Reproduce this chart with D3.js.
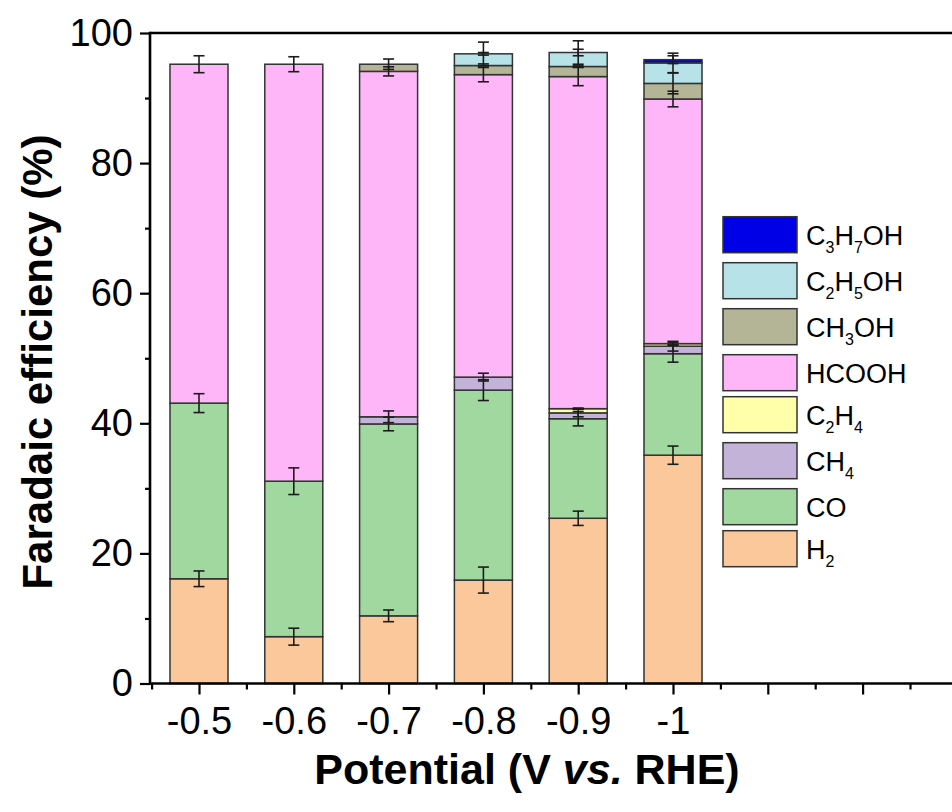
<!DOCTYPE html>
<html>
<head>
<meta charset="utf-8">
<script src="https://cdn.jsdelivr.net/npm/d3@7"></script>
<style>
  html, body { margin: 0; padding: 0; background: #fff; }
  svg text { font-family: "Liberation Sans", Arial, Helvetica, sans-serif; fill: #000; }
</style>
</head>
<body>
<svg id="chart" width="952" height="812"></svg>
<script>
// Applied potentials (V vs. RHE)
const potentials = [-0.5, -0.6, -0.7, -0.8, -0.9, -1.0];
const xTickLabels = ["-0.5", "-0.6", "-0.7", "-0.8", "-0.9", "-1"];
const yTickValues = [0, 20, 40, 60, 80, 100];

// Products, in stacking order (bottom to top)
const products = ["H2", "CO", "CH4", "C2H4", "HCOOH", "CH3OH", "C2H5OH", "C3H7OH"];
const productColors = ["#FAC89B", "#A0D8A0", "#C4B3D9", "#FFFFAA", "#FFB6F8", "#B4B496", "#B6E2E8", "#0000E6"];

// Faradaic efficiency (%) of each product at each potential
const feH2     = [16.1, 7.2, 10.4, 15.9, 25.4, 35.1];
const feCO     = [27.0, 23.9, 29.5, 29.2, 15.3, 15.6];
const feCH4    = [0, 0, 1.1, 2.0, 0.9, 1.15];
const feC2H4   = [0, 0, 0, 0, 0.65, 0.4];
const feHCOOH  = [52.1, 64.1, 53.1, 46.5, 51.05, 37.6];
const feCH3OH  = [0, 0, 1.1, 1.4, 1.55, 2.4];
const feC2H5OH = [0, 0, 0, 1.8, 2.15, 3.15];
const feC3H7OH = [0, 0, 0, 0, 0, 0.5];

// Standard deviations (%)
const errH2     = [1.2, 1.3, 0.9, 2.0, 1.1, 1.4];
const errCO     = [1.45, 2.05, 1.05, 1.6, 1.1, 1.3];
const errCH4    = [0, 0, 0.9, 0.6, 0.6, 0.75];
const errC2H4   = [0, 0, 0, 0, 0.1, 0.2];
const errHCOOH  = [1.3, 1.15, 0.7, 1.1, 1.4, 1.2];
const errCH3OH  = [0, 0, 0.8, 0.25, 0.1, 1.6];
const errC2H5OH = [0, 0, 0, 1.8, 1.8, 1.5];
const errC3H7OH = [0, 0, 0, 0.2, 0.5, 0.6];

const feBySeries  = [feH2, feCO, feCH4, feC2H4, feHCOOH, feCH3OH, feC2H5OH, feC3H7OH];
const errBySeries = [errH2, errCO, errCH4, errC2H4, errHCOOH, errCH3OH, errC2H5OH, errC3H7OH];

// Table for d3.stack: one row per potential
const table = potentials.map((p, i) => {
  const row = { potential: p, index: i };
  products.forEach((k, s) => { row[k] = feBySeries[s][i]; });
  return row;
});

const svg = d3.select("#chart");
const plotLeft = 150, plotTop = 33, plotBottom = 683.5, plotRight = 952;

const y = d3.scaleLinear().domain([0, 100]).range([plotBottom, plotTop]);
const x = d3.scaleLinear().domain([-0.5, -1.0]).range([199, 673]);
const barWidth = Math.abs(x(-0.5612) - x(-0.5));

const series = d3.stack().keys(products)(table);

// Stacked bars
const gBars = svg.append("g");
series.forEach((s, si) => {
  gBars.selectAll(null)
    .data(s.filter(d => d[1] - d[0] > 0))
    .enter().append("rect")
    .attr("x", d => x(d.data.potential) - barWidth / 2)
    .attr("width", barWidth)
    .attr("y", d => y(d[1]))
    .attr("height", d => y(d[0]) - y(d[1]))
    .attr("fill", productColors[si])
    .attr("stroke", "#333")
    .attr("stroke-width", 1.5);
});

// Error bars at the cumulative top of each segment
const gErr = svg.append("g").attr("stroke", "#1c1c1c").attr("stroke-width", 1.6);
const capHalf = 5.5;
series.forEach((s, si) => {
  s.forEach((d, i) => {
    const e = errBySeries[si][i];
    if (!(e > 0)) return;
    const cx = x(d.data.potential);
    const yHi = y(d[1] + e), yLo = y(d[1] - e);
    gErr.append("line").attr("x1", cx).attr("x2", cx).attr("y1", yHi).attr("y2", yLo);
    gErr.append("line").attr("x1", cx - capHalf).attr("x2", cx + capHalf).attr("y1", yHi).attr("y2", yHi);
    gErr.append("line").attr("x1", cx - capHalf).attr("x2", cx + capHalf).attr("y1", yLo).attr("y2", yLo);
  });
});

// Y axis: major and minor ticks
const yAxis = svg.append("g").attr("transform", `translate(${plotLeft},0)`)
  .call(d3.axisLeft(y).tickValues(yTickValues).tickSize(10).tickSizeOuter(0).tickPadding(7));
yAxis.select(".domain").remove();
yAxis.selectAll(".tick line").attr("stroke-width", 2.2).attr("stroke", "#000");
yAxis.selectAll(".tick text").attr("font-size", 38).attr("font-family", "Liberation Sans, Arial, sans-serif");
const yMinor = svg.append("g").attr("transform", `translate(${plotLeft},0)`)
  .call(d3.axisLeft(y).tickValues(d3.range(10, 100, 20)).tickSize(5).tickSizeOuter(0).tickFormat(""));
yMinor.select(".domain").remove();
yMinor.selectAll(".tick line").attr("stroke-width", 2.2).attr("stroke", "#000");

// X axis: labelled ticks at the measured potentials, unlabelled ticks beyond
const xMajor = d3.range(0, 9).map(k => +(-0.5 - 0.1 * k).toFixed(2));
const xMinorVals = d3.range(0, 9).map(k => +(-0.45 - 0.1 * k).toFixed(2));
const xAxis = svg.append("g").attr("transform", `translate(0,${plotBottom})`)
  .call(d3.axisBottom(x).tickValues(xMajor).tickSize(11).tickSizeOuter(0).tickPadding(13)
    .tickFormat(v => {
      const i = potentials.findIndex(p => Math.abs(p - v) < 1e-6);
      return i >= 0 ? xTickLabels[i] : "";
    }));
xAxis.select(".domain").remove();
xAxis.selectAll(".tick line").attr("stroke-width", 2.2).attr("stroke", "#000");
xAxis.selectAll(".tick text").attr("font-size", 38).attr("font-family", "Liberation Sans, Arial, sans-serif");
const xMinor = svg.append("g").attr("transform", `translate(0,${plotBottom})`)
  .call(d3.axisBottom(x).tickValues(xMinorVals).tickSize(6).tickSizeOuter(0).tickFormat(""));
xMinor.select(".domain").remove();
xMinor.selectAll(".tick line").attr("stroke-width", 2.2).attr("stroke", "#000");

// Frame lines
const frame = svg.append("g").attr("stroke", "#000").attr("stroke-width", 2.6).attr("fill", "none");
frame.append("line").attr("x1", plotLeft).attr("x2", plotRight).attr("y1", plotBottom).attr("y2", plotBottom);
frame.append("line").attr("x1", plotLeft).attr("x2", plotRight).attr("y1", plotTop).attr("y2", plotTop);
frame.append("line").attr("x1", plotLeft).attr("x2", plotLeft).attr("y1", plotTop - 1.3).attr("y2", plotBottom + 1.3);

// Axis titles
svg.append("text")
  .attr("transform", "translate(52,362) rotate(-90)")
  .attr("text-anchor", "middle")
  .attr("font-size", 42).attr("font-weight", "bold")
  .text("Faradaic efficiency (%)");

const xTitle = svg.append("text")
  .attr("x", 527).attr("y", 784)
  .attr("text-anchor", "middle")
  .attr("font-size", 43).attr("font-weight", "bold");
xTitle.append("tspan").text("Potential (V ");
xTitle.append("tspan").attr("font-style", "italic").text("vs.");
xTitle.append("tspan").text(" RHE)");

// Legend (top entry is the last stacked product); digits are set as subscripts
const legend = svg.append("g");
let ly = 216.7;
const legendOrder = products.map((p, i) => i).reverse();
legendOrder.forEach(si => {
  const name = products[si];
  legend.append("rect")
    .attr("x", 723).attr("y", ly).attr("width", 74).attr("height", 36)
    .attr("fill", productColors[si]).attr("stroke", "#333").attr("stroke-width", 1.5);
  const t = legend.append("text").attr("x", 806).attr("y", ly + 28.5).attr("font-size", 27);
  let sub = false;
  name.split(/(\d+)/).filter(s => s.length).forEach(part => {
    if (/^\d+$/.test(part)) {
      t.append("tspan").attr("font-size", 16).attr("dy", 8).text(part);
      sub = true;
    } else {
      const ts = t.append("tspan").text(part);
      if (sub) { ts.attr("dy", -8); sub = false; }
    }
  });
  ly += /\d/.test(name) ? 46 : 42;
});
</script>
</body>
</html>
